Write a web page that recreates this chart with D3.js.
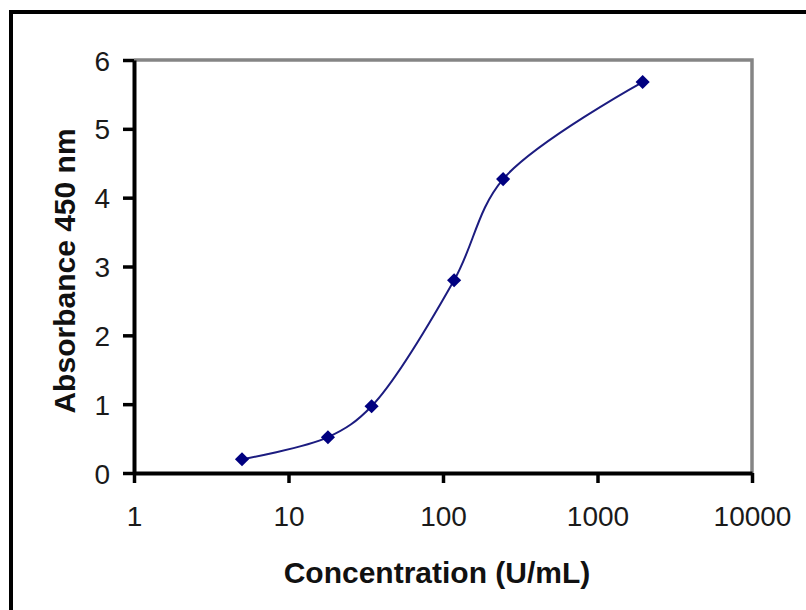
<!DOCTYPE html>
<html>
<head>
<meta charset="utf-8">
<script src="https://cdn.jsdelivr.net/npm/d3@7"></script>
<style>
  body { margin: 0; background: #fff; }
  svg { display: block; }
</style>
</head>
<body>
<div id="chartDiv"></div>
<script>
  // data
  const concentration = [5, 18, 34.5, 118, 245, 1960];
  const absorbance = [0.2, 0.52, 0.97, 2.8, 4.27, 5.68];
  const xTicks = [1, 10, 100, 1000, 10000];
  const yTicks = [0, 1, 2, 3, 4, 5, 6];

  const W = 806, H = 610;
  const margin = { top: 60, right: 54, bottom: 137, left: 134 },
      width = W - margin.left - margin.right,
      height = H - margin.top - margin.bottom;

  const root = d3.select("#chartDiv")
      .append("svg")
      .attr("width", W)
      .attr("height", H);

  // outer frame (runs off the right and bottom edge)
  root.append("rect")
      .attr("x", 11).attr("y", 12)
      .attr("width", 810).attr("height", 620)
      .attr("fill", "none")
      .attr("stroke", "#000")
      .attr("stroke-width", 4);

  const svg = root.append("g")
      .attr("transform", "translate(" + margin.left + "," + margin.top + ")");

  const x = d3.scaleLog()
      .domain([1, 10000])
      .range([0, width]);
  const y = d3.scaleLinear()
      .domain([0, 6])
      .range([height, 0]);

  // gray plot border, top and right
  svg.append("path")
      .attr("d", "M0,0H" + width + "V" + height)
      .attr("fill", "none")
      .attr("stroke", "#858585")
      .attr("stroke-width", 3.5);

  const xAxis = svg.append("g")
      .attr("transform", "translate(0," + height + ")")
      .call(d3.axisBottom(x).tickValues(xTicks).tickFormat(d3.format("d"))
          .tickSize(10).tickPadding(23).tickSizeOuter(0));

  const yAxis = svg.append("g")
      .call(d3.axisLeft(y).tickValues(yTicks).tickFormat(d3.format("d"))
          .tickSize(11).tickPadding(13).tickSizeOuter(0));

  [xAxis, yAxis].forEach(function(a) {
      a.select(".domain").attr("stroke", "#000").attr("stroke-width", 4);
      a.selectAll(".tick line").attr("stroke", "#000").attr("stroke-width", 3.5);
      a.selectAll(".tick text")
          .attr("fill", "#1a1a1a")
          .style("font-family", "'Liberation Sans', Arial, sans-serif")
          .style("font-size", "28px");
  });
  yAxis.selectAll(".tick text").attr("dy", "0.36em");

  const pts = concentration.map(function(c, i) { return [c, absorbance[i]]; });

  // smoothed line
  const line = d3.line()
      .x(function(d) { return x(d[0]); })
      .y(function(d) { return y(d[1]); })
      .curve(d3.curveCatmullRom.alpha(0.5));

  svg.append("path")
      .datum(pts)
      .attr("d", line)
      .attr("fill", "none")
      .attr("stroke", "#1c1c80")
      .attr("stroke-width", 2);

  // diamond markers
  svg.selectAll(".mark")
      .data(pts)
      .enter()
      .append("path")
      .attr("class", "mark")
      .attr("d", d3.symbol().type(d3.symbolSquare).size(100))
      .attr("transform", function(d) {
          return "translate(" + x(d[0]) + "," + y(d[1]) + ") rotate(45)";
      })
      .attr("fill", "#000080");

  // axis titles
  root.append("text")
      .attr("x", margin.left + width / 2 - 6)
      .attr("y", 583)
      .attr("text-anchor", "middle")
      .style("font-family", "'Liberation Sans', Arial, sans-serif")
      .style("font-size", "30px")
      .style("font-weight", "bold")
      .attr("fill", "#111")
      .text("Concentration (U/mL)");

  root.append("text")
      .attr("transform", "translate(75,271) rotate(-90)")
      .attr("text-anchor", "middle")
      .style("font-family", "'Liberation Sans', Arial, sans-serif")
      .style("font-size", "30px")
      .style("font-weight", "bold")
      .attr("fill", "#111")
      .text("Absorbance 450 nm");
</script>
</body>
</html>
